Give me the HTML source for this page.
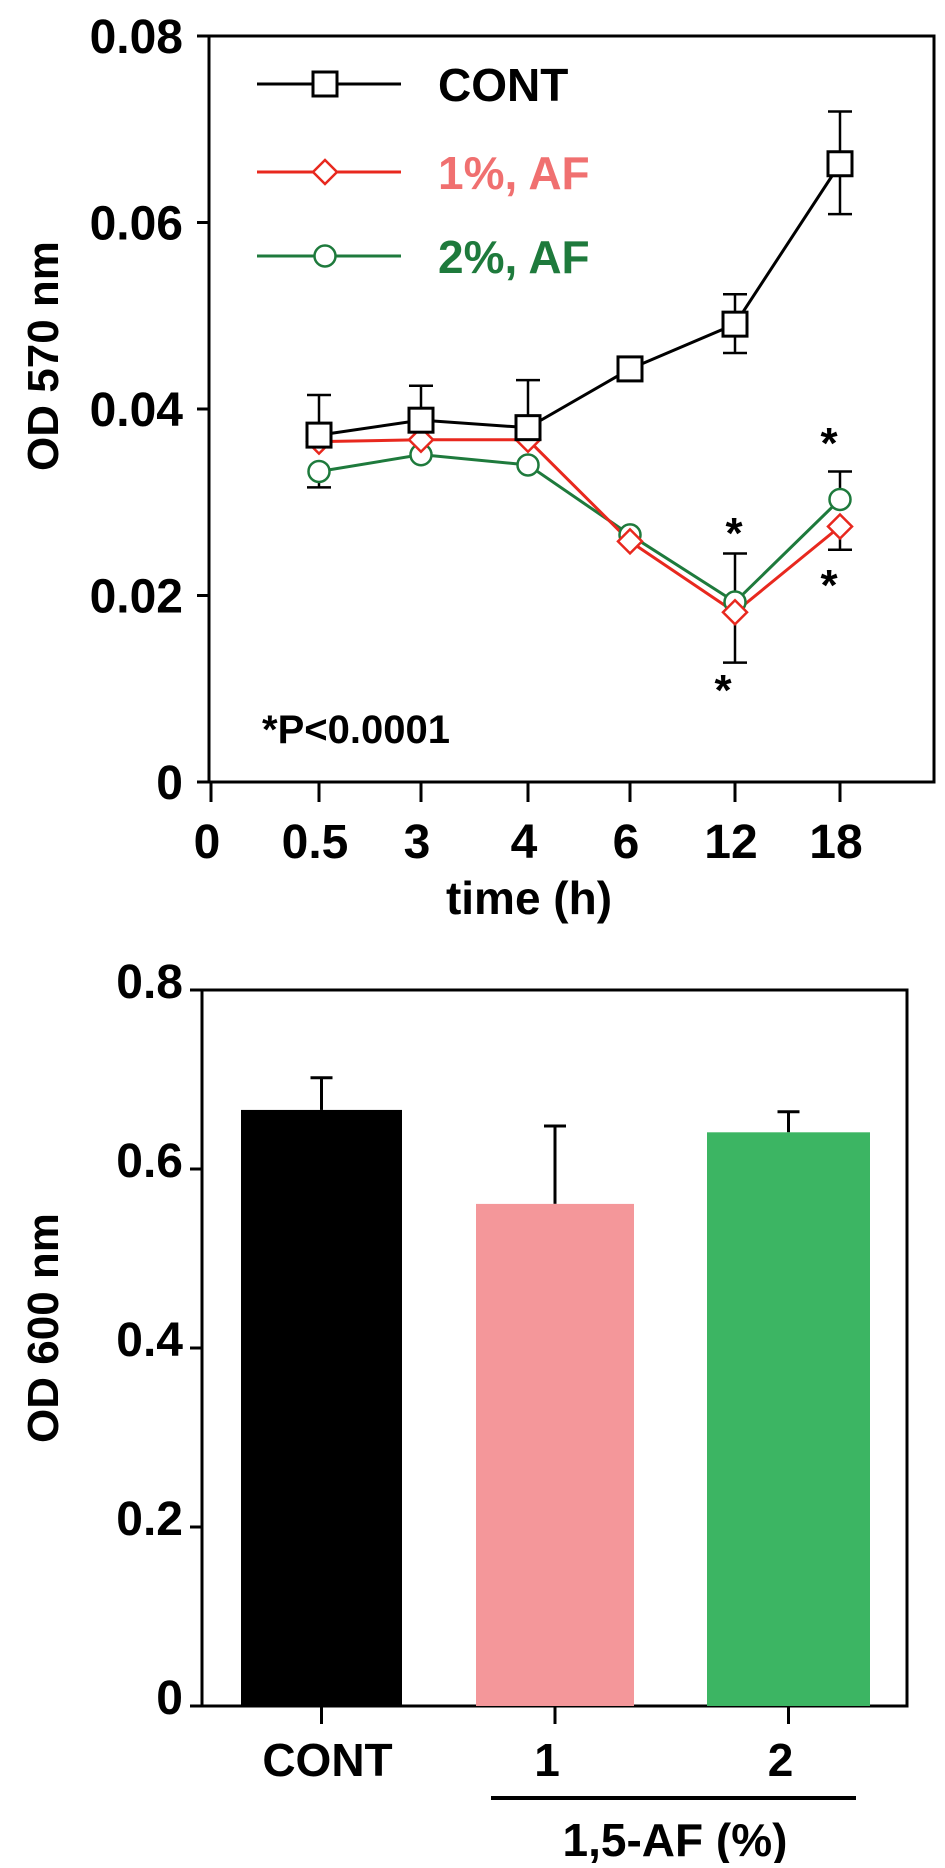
<!DOCTYPE html>
<html><head><meta charset="utf-8"><style>
body{margin:0;background:#fff}
svg text{font-family:"Liberation Sans",Arial,sans-serif;font-weight:bold}
</style></head><body>
<svg id="s" width="945" height="1863" viewBox="0 0 945 1863" xmlns="http://www.w3.org/2000/svg"></svg>
<script>
// ---- Top chart data ----
const timeLabels = ["0.5","3","4","6","12","18"];
const contVals = [0.0372,0.0388,0.0380,0.0443,0.0491,0.0663];
const contUpper = [0.0415,0.0425,0.0431,null,0.0523,0.0719];
const contLower = [null,null,null,null,0.0460,0.0609];
const af1Vals = [0.0365,0.0367,0.0367,0.0258,0.0182,0.0274];
const af1Lower = [null,null,null,null,0.0128,0.0249];
const af2Vals = [0.0333,0.0351,0.0340,0.0265,0.0193,0.0303];
const af2Lower = [0.0316,null,null,null,null,null];
const af2Upper = [null,null,null,null,0.0245,0.0333];
const yTicksTop = [0,0.02,0.04,0.06,0.08];
const yTickLabelsTop = ["0","0.02","0.04","0.06","0.08"];
// ---- Bottom chart data ----
const barCats = ["CONT","1","2"];
const barVals = [0.666,0.561,0.641];
const barErr = [0.702,0.648,0.664];
const barColors = ["#000000","#f4979a","#3cb563"];
const yTicksBot = [0,0.2,0.4,0.6,0.8];
const yTickLabelsBot = ["0","0.2","0.4","0.6","0.8"];

const S=document.getElementById('s');
const NS='http://www.w3.org/2000/svg';
function mk(tag,attrs,txt){const e=document.createElementNS(NS,tag);for(const k in attrs)e.setAttribute(k,attrs[k]);if(txt!==undefined)e.textContent=txt;S.appendChild(e);return e;}

// ===== Top chart =====
const T={l:209,r:934,t:36,b:782};
const yT=v=>T.b-(v/0.08)*(T.b-T.t);
const xPos=[319,421,528,630,735,840];
const xT=i=>xPos[i];
let e;
e=mk('rect',{x:T.l,y:T.t,width:T.r-T.l,height:T.b-T.t,fill:'none',stroke:'#000','stroke-width':3});

yTicksTop.forEach((v,i)=>{
 e=mk('line',{x1:T.l-12,x2:T.l,y1:yT(v),y2:yT(v),stroke:'#000','stroke-width':3});
 
 e=mk('text',{x:183,y:yT(v)+17,'font-size':48,'text-anchor':'end'},yTickLabelsTop[i]);
 
});
[211].concat(xPos).forEach((x,i)=>{
 e=mk('line',{x1:x,x2:x,y1:T.b,y2:T.b+20,stroke:'#000','stroke-width':3});
 
 e=mk('text',{x:x-4,y:858,'font-size':48,'text-anchor':'middle'},i==0?"0":timeLabels[i-1]);
 
});
e=mk('text',{x:529,y:914,'font-size':46,'text-anchor':'middle'},'time (h)');

e=mk('text',{x:0,y:0,'font-size':44,'text-anchor':'middle',transform:'translate(58,356) rotate(-90)'},'OD 570 nm');


function errBar(i,v,ev,name){
 if(ev==null)return;
 e=mk('line',{x1:xT(i),x2:xT(i),y1:yT(v),y2:yT(ev),stroke:'#000','stroke-width':2.5});
 
 e=mk('line',{x1:xT(i)-12,x2:xT(i)+12,y1:yT(ev),y2:yT(ev),stroke:'#000','stroke-width':2.5});
 
}
contVals.forEach((v,i)=>{errBar(i,v,contUpper[i],'cont-error-bar');errBar(i,v,contLower[i],'cont-error-bar');});
af1Vals.forEach((v,i)=>errBar(i,v,af1Lower[i],'af1-error-bar'));
af2Vals.forEach((v,i)=>{errBar(i,v,af2Lower[i],'af2-error-bar');errBar(i,v,af2Upper[i],'af2-error-bar');});

function series(vals,color,name){
 e=mk('polyline',{points:vals.map((v,i)=>xT(i)+','+yT(v)).join(' '),fill:'none',stroke:color,'stroke-width':3});
 
}
function marker(type,x,y,color,name){
 if(type==='sq')e=mk('rect',{x:x-12,y:y-12,width:24,height:24,fill:'#fff',stroke:color,'stroke-width':3});
 else if(type==='ci')e=mk('circle',{cx:x,cy:y,r:10.5,fill:'#fff',stroke:color,'stroke-width':2.5});
 else e=mk('polygon',{points:`${x},${y-12} ${x+12},${y} ${x},${y+12} ${x-12},${y}`,fill:'#fff',stroke:color,'stroke-width':2.5});
 
}
series(af2Vals,'#1e7a3c','af2');
series(af1Vals,'#e8281e','af1');
series(contVals,'#000','cont');
af2Vals.forEach((v,i)=>marker('ci',xT(i),yT(v),'#1e7a3c','af2-point'));
af1Vals.forEach((v,i)=>marker('di',xT(i),yT(v),'#e8281e','af1-point'));
contVals.forEach((v,i)=>marker('sq',xT(i),yT(v),'#000','cont-point'));

const leg=[['sq','#000','CONT','#000',84],['di','#e8281e','1%, AF','#f07070',172],['ci','#1e7a3c','2%, AF','#1e7a3c',256]];
leg.forEach(r=>{
 e=mk('line',{x1:257,x2:401,y1:r[4],y2:r[4],stroke:r[1],'stroke-width':3});
 
 marker(r[0],325,r[4],r[1],'legend-marker');
 e=mk('text',{x:438,y:r[4]+17,'font-size':46,fill:r[3]},r[2]);
 
});
[[734,548],[723,705],[829,458],[829,600]].forEach(p=>{
 e=mk('text',{x:p[0],y:p[1],'font-size':44,'text-anchor':'middle'},'*');
 
});
e=mk('text',{x:262,y:743,'font-size':40},'*P<0.0001');


// ===== Bottom chart =====
const B={l:202,r:907,t:990,b:1706};
const yB=v=>B.b-(v/0.8)*(B.b-B.t);
const barX=[241,476,707], barW=[161,158,163];
e=mk('rect',{x:B.l,y:B.t,width:B.r-B.l,height:B.b-B.t,fill:'none',stroke:'#000','stroke-width':3});

yTicksBot.forEach((v,i)=>{
 e=mk('line',{x1:B.l-12,x2:B.l,y1:yB(v),y2:yB(v),stroke:'#000','stroke-width':3});
 
 e=mk('text',{x:183,y:yB(v)+8,'font-size':48,'text-anchor':'end'},yTickLabelsBot[i]);
 
});
barVals.forEach((v,i)=>{
 const cx=barX[i]+barW[i]/2;
 e=mk('line',{x1:cx,x2:cx,y1:yB(v),y2:yB(barErr[i]),stroke:'#000','stroke-width':3});
 
 e=mk('line',{x1:cx-11,x2:cx+11,y1:yB(barErr[i]),y2:yB(barErr[i]),stroke:'#000','stroke-width':3});
 
 e=mk('rect',{x:barX[i],y:yB(v),width:barW[i],height:B.b-yB(v),fill:barColors[i]});
 
 e=mk('line',{x1:cx,x2:cx,y1:B.b,y2:B.b+18,stroke:'#000','stroke-width':3});
 
 e=mk('text',{x:cx+(i?-8:6),y:1776,'font-size':46,'text-anchor':'middle'},barCats[i]);
 
});
e=mk('line',{x1:491,x2:856,y1:1798,y2:1798,stroke:'#000','stroke-width':4});

e=mk('text',{x:675,y:1856,'font-size':46,'text-anchor':'middle'},'1,5-AF (%)');

e=mk('text',{x:0,y:0,'font-size':44,'text-anchor':'middle',transform:'translate(58,1328) rotate(-90)'},'OD 600 nm');

</script>
</body></html>
